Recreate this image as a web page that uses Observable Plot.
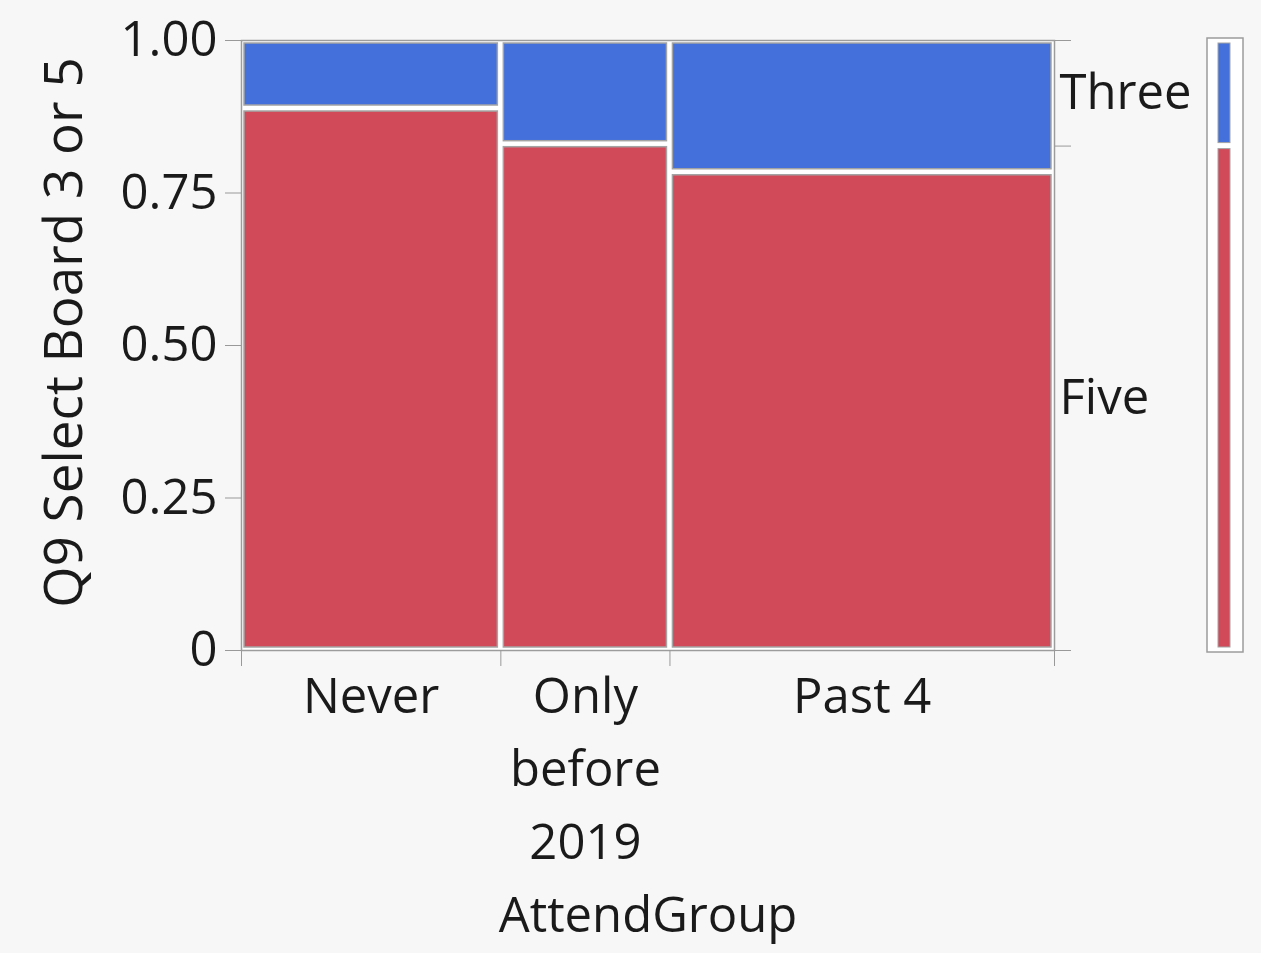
<!DOCTYPE html>
<html>
<head>
<meta charset="utf-8">
<script src="https://cdn.jsdelivr.net/npm/d3@7"></script>
<script src="https://cdn.jsdelivr.net/npm/@observablehq/plot@0.6"></script>
<style>
  html, body { margin: 0; padding: 0; background: #f7f7f7; }
  #chart { width: 1261px; height: 953px; }
</style>
</head>
<body>
<div id="chart"></div>
<script>
// ---- data ----
const groups = ["Never", "Only before 2019", "Past 4"];
const groupLabels = ["Never", "Only\nbefore\n2019", "Past 4"];
const groupShare = [0.319, 0.208, 0.473];      // column widths (share of respondents)
const fiveShare = [0.8885, 0.830, 0.784];       // share answering "Five" within each group
const responses = ["Five", "Three"];
const responseColors = ["#D14A5A", "#4370DB"];
const yTicks = [0, 0.25, 0.5, 0.75, 1];
const yTickLabels = ["0", "0.25", "0.50", "0.75", "1.00"];
const xTitle = "AttendGroup";
const yTitle = "Q9 Select Board 3 or 5";

// ---- derived tables ----
let cum = 0;
const bounds = [0];
const centers = [];
const cells = [];
groups.forEach((g, i) => {
  const x1 = cum, x2 = cum + groupShare[i];
  centers.push((x1 + x2) / 2);
  cells.push({group: g, response: "Five", x1, x2, y1: 0, y2: fiveShare[i]});
  cells.push({group: g, response: "Three", x1, x2, y1: fiveShare[i], y2: 1});
  cum = x2;
  bounds.push(cum);
});
const overallFive = d3.sum(groups, (g, i) => groupShare[i] * fiveShare[i]);
const marginal = [
  {response: "Five", y1: 0, y2: overallFive},
  {response: "Three", y1: overallFive, y2: 1}
];
const marginalMid = marginal.map(d => ({response: d.response, y: (d.y1 + d.y2) / 2}));

// layout constants (frame spans 813px; side bar placed to the right)
const W = 813;
const sideOuter = [1 + 153 / W, 1 + 189 / W];
const sideInner = [1 + 161 / W, 1 + 179 / W];

const font = "'Open Sans', 'Noto Sans', sans-serif";
const chart = Plot.plot({
  width: 1261,
  height: 953,
  marginLeft: 241,
  marginRight: 207,
  marginTop: 40,
  marginBottom: 303,
  x: {domain: [0, 1]},
  y: {domain: [0, 1]},
  color: {domain: responses, range: responseColors},
  style: {background: "transparent", fontFamily: font, fontSize: "49px", color: "#1a1a1a"},
  marks: [
    Plot.frame({fill: "white", stroke: "#9c9c9c", strokeWidth: 1.5}),
    Plot.rect(cells, {x1: "x1", x2: "x2", y1: "y1", y2: "y2", fill: "response",
      stroke: "#a4a4a4", strokeWidth: 1.5, inset: 3}),
    // left axis
    Plot.axisY({ticks: yTicks, tickFormat: d => yTickLabels[yTicks.indexOf(d)],
      tickSize: 16, tickPadding: 8, stroke: "#999", fill: "#1a1a1a", label: null}),
    // right axis ticks at marginal boundaries
    Plot.axisY({anchor: "right", ticks: [0, overallFive, 1], tickFormat: () => "",
      tickSize: 16, stroke: "#999", label: null}),
    Plot.text(marginalMid, {x: 1, y: "y", text: "response", textAnchor: "start", dx: 5,
      fill: "#1a1a1a"}),
    // bottom axis: ticks at boundaries, labels at centers
    Plot.axisX({ticks: bounds, tickFormat: () => "", tickSize: 16, stroke: "#999", label: null}),
    Plot.axisX({ticks: centers, tickSize: 0, tickPadding: 11,
      tickFormat: d => groupLabels[centers.indexOf(d)], lineHeight: 1.49, fill: "#1a1a1a", label: null}),
    // titles
    Plot.text([xTitle], {frameAnchor: "bottom", dy: 266, lineAnchor: "middle", textAnchor: "middle", fill: "#1a1a1a"}),
    Plot.text([yTitle], {frameAnchor: "left", rotate: -90, dx: -176, dy: -13, lineAnchor: "middle", textAnchor: "middle",
      fontSize: 53, fill: "#1a1a1a"}),
    // side marginal bar
    Plot.rect([0], {x1: sideOuter[0], x2: sideOuter[1], y1: 0, y2: 1, insetTop: -2, insetBottom: -2,
      fill: "white", stroke: "#9c9c9c", strokeWidth: 1.5}),
    Plot.rect(marginal, {x1: sideInner[0], x2: sideInner[1], y1: "y1", y2: "y2", fill: "response",
      stroke: "#a4a4a4", strokeWidth: 1, inset: 3})
  ]
});
document.getElementById("chart").appendChild(chart);
</script>
</body>
</html>
